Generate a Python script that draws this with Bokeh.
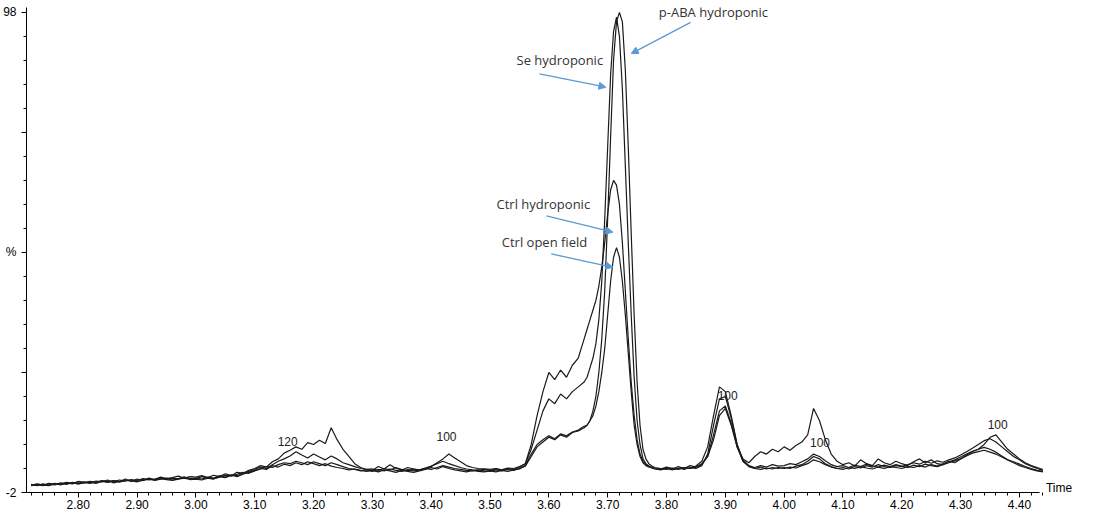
import numpy as np
from bokeh.plotting import figure
from bokeh.models import Arrow, NormalHead, Label, FixedTicker
from bokeh.embed import file_html
from bokeh.resources import INLINE

# retention time grid: 0.01 steps, 0.005 around the main peak
t_seg1 = np.round(np.arange(2.72, 3.6601, 0.01), 3)
t_seg2 = np.round(np.arange(3.665, 3.7801, 0.005), 3)
t_seg3 = np.round(np.arange(3.79, 4.4401, 0.01), 3)
times = np.concatenate([t_seg1, t_seg2, t_seg3])

se_hydro = (
    [-0.6, -0.4, -0.5, -0.1, -0.3, -0.2, 0.1, -0.1, 0.2, 0.0, 0.3, 0.1, 0.5, 0.2, 0.3, 0.6, 0.4, 0.7, 0.5, 0.9, 0.6, 0.8, 1.1, 0.7, 1.0, 0.8, 1.2, 0.9]
    + [1.0, 0.8, 1.2, 1.0, 1.5, 1.2, 1.7, 1.5, 2.0, 2.4]
    + [2.8, 3.3, 3.0, 3.8, 4.5, 5.0, 5.6, 6.5, 5.8, 5.2, 6.0, 5.4, 4.8, 5.6, 5.0, 4.2, 3.8, 3.4, 3.0, 2.8]
    + [2.9, 2.6, 3.0, 2.7, 3.2, 2.8, 2.5, 2.9, 2.7, 3.1, 3.5, 4.0, 4.5, 4.0, 3.6, 3.2, 2.9, 2.7, 2.6, 2.8]
    + [2.6, 2.9, 2.7, 3.0, 2.8, 3.2, 4.0, 7.0, 11.0, 15.0, 17.5, 16.5, 18.5, 17.5, 19.0, 20.0, 21.0]
    + [22, 24, 26, 29, 34, 42, 55, 70, 85, 94, 97, 93, 82, 66, 50, 35, 22, 13, 8, 5, 4, 3.5, 3.2, 3.0]
    + [2.9, 3.3, 3.0, 2.8, 3.2, 3.0, 3.5, 4.5, 7.5, 14.0, 20.0, 19.0, 14.0, 8.0, 4.5, 3.5, 3.0, 3.3, 2.9, 3.2, 3.0]
    + [3.2, 3.0, 3.5, 3.8, 4.5, 5.5, 5.0, 4.0, 3.4, 3.0, 3.2, 2.9, 3.4, 3.1, 3.6, 3.3, 3.8, 3.4, 3.2, 3.6]
    + [3.4, 3.8, 4.2, 3.9, 4.5, 4.1, 4.6, 4.3, 4.8, 5.2, 5.8, 6.5, 7.2, 8.0, 8.8, 9.2, 8.5, 7.5, 6.5, 5.5, 4.8, 4.0, 3.5, 3.0, 2.6]
)

paba_hydro = (
    [-0.3, -0.6, -0.2, -0.5, -0.1, -0.4, 0.0, -0.2, 0.3, 0.1, -0.1, 0.4, 0.2, 0.6, 0.0, 0.3, 0.8, 0.4, 0.2, 0.7, 0.9, 0.5, 0.8, 1.0, 0.6, 0.9, 1.2, 0.8]
    + [0.9, 1.3, 1.0, 0.8, 1.2, 1.6, 1.4, 1.8, 2.2, 2.0]
    + [2.5, 2.9, 3.4, 3.2, 3.8, 4.2, 4.0, 4.5, 4.2, 3.8, 4.4, 4.0, 3.6, 4.2, 3.8, 3.4, 3.0, 2.8, 2.5, 2.7]
    + [2.4, 2.8, 2.5, 2.9, 2.6, 2.4, 2.8, 2.5, 2.7, 3.0, 2.8, 3.2, 3.6, 3.3, 3.0, 2.8, 2.6, 2.5, 2.7, 2.5]
    + [2.4, 2.7, 2.5, 2.8, 2.6, 3.0, 3.5, 5.5, 7.5, 8.5, 9.5, 9.0, 10.0, 9.5, 10.5, 10.8, 11.5]
    + [12, 13, 15, 18, 23, 30, 40, 55, 72, 88, 96, 98, 96, 86, 70, 52, 35, 21, 12, 7, 5, 4, 3.5, 3.2]
    + [3.0, 2.8, 3.1, 2.9, 3.2, 3.0, 3.3, 3.8, 5.5, 10.0, 15.0, 16.0, 12.5, 7.5, 4.5, 3.4, 3.0, 2.8, 3.1, 2.9, 3.2]
    + [3.0, 3.3, 3.1, 3.6, 4.0, 4.8, 4.4, 3.8, 3.3, 3.0, 2.8, 3.2, 3.0, 3.4, 3.1, 2.9, 3.3, 3.0, 3.4, 3.2]
    + [3.0, 3.4, 3.2, 3.6, 3.3, 3.8, 3.5, 4.0, 4.4, 4.8, 5.4, 6.0, 6.6, 7.0, 7.4, 7.0, 6.4, 5.6, 4.8, 4.2, 3.6, 3.2, 2.8, 2.5, 2.3]
)

ctrl_hydro = (
    [-0.5, -0.3, -0.6, -0.2, -0.4, 0.0, -0.3, 0.1, -0.2, 0.0, 0.2, -0.1, 0.3, 0.1, 0.4, 0.2, 0.6, 0.3, 0.8, 0.5, 1.0, 0.7, 1.2, 0.9, 1.1, 1.4, 1.0, 1.3]
    + [1.2, 1.5, 1.1, 1.6, 1.3, 1.9, 1.5, 2.2, 2.0, 2.6]
    + [3.0, 3.6, 3.3, 4.4, 5.0, 6.2, 6.8, 7.5, 7.0, 8.4, 8.0, 8.9, 8.2, 11.5, 9.0, 7.0, 5.5, 4.0, 3.2, 2.8]
    + [2.6, 3.4, 2.9, 3.8, 3.0, 2.7, 3.2, 2.9, 2.6, 3.0, 3.4, 4.2, 5.0, 6.0, 5.2, 4.4, 3.6, 3.2, 3.0, 2.9]
    + [2.8, 3.0, 2.7, 3.1, 3.0, 3.4, 4.0, 8.0, 14.0, 19.0, 23.0, 21.5, 23.5, 22.0, 24.5, 26.0, 30.0]
    + [32, 34, 36, 38, 41, 45, 50, 56, 61, 63, 62, 58, 50, 40, 30, 21, 14, 9, 6, 4.5, 3.8, 3.4, 3.2, 3.0]
    + [2.8, 3.2, 2.9, 3.4, 3.0, 3.6, 3.3, 4.0, 5.5, 9.0, 14.0, 15.5, 12.0, 7.5, 5.0, 4.2, 5.5, 6.5, 6.0, 7.0, 6.5]
    + [7.5, 6.8, 7.8, 8.5, 10.0, 15.5, 13.0, 9.0, 6.0, 4.5, 3.8, 4.2, 3.5, 4.8, 4.0, 3.6, 5.0, 4.2, 3.8, 4.5]
    + [4.0, 3.6, 4.4, 5.0, 4.2, 4.8, 4.0, 3.8, 4.5, 4.2, 5.0, 5.8, 6.5, 7.0, 8.0, 9.5, 10.0, 8.5, 7.0, 6.0, 5.0, 4.2, 3.6, 3.2, 2.8]
)

ctrl_open = (
    [-0.5, -0.2, -0.4, -0.6, -0.2, -0.3, -0.1, 0.0, -0.2, 0.2, 0.0, 0.1, 0.4, 0.3, 0.5, 0.2, 0.4, 0.6, 0.3, 0.5, 0.8, 0.6, 0.9, 0.7, 0.5, 0.8, 1.0, 0.7]
    + [0.8, 0.6, 1.0, 0.9, 1.3, 1.1, 1.6, 1.3, 1.8, 2.2]
    + [2.6, 3.0, 2.8, 3.6, 3.3, 3.9, 3.6, 4.2, 3.8, 4.4, 4.0, 3.6, 4.0, 3.5, 3.2, 3.0, 2.7, 2.9, 2.6, 2.4]
    + [2.6, 2.3, 2.7, 2.5, 2.2, 2.6, 2.4, 2.2, 2.5, 2.8, 3.2, 2.9, 3.4, 3.0, 2.7, 2.5, 2.3, 2.6, 2.4, 2.3]
    + [2.5, 2.3, 2.6, 2.4, 2.7, 2.9, 3.6, 6.0, 8.0, 9.0, 9.8, 9.2, 10.2, 9.8, 10.6, 11.0, 11.8]
    + [12, 13, 14, 16, 19, 23, 28, 35, 42, 47, 49, 47, 42, 35, 27, 19, 12, 8, 5.5, 4.2, 3.6, 3.3, 3.1, 2.9]
    + [2.7, 3.0, 2.7, 3.1, 2.8, 3.2, 3.0, 3.6, 6.0, 12.0, 17.5, 18.0, 13.5, 8.0, 4.8, 3.6, 3.2, 3.6, 3.3, 3.8, 3.5]
    + [3.6, 4.0, 3.8, 4.4, 5.0, 6.0, 5.5, 4.6, 3.8, 3.4, 3.6, 3.2, 3.7, 3.4, 3.9, 3.5, 3.3, 3.7, 3.4, 3.8]
    + [3.5, 3.2, 3.7, 3.4, 3.9, 3.6, 3.4, 3.8, 4.2, 4.6, 5.0, 5.6, 6.2, 6.5, 6.8, 6.4, 6.0, 5.4, 4.8, 4.4, 3.9, 3.4, 3.0, 2.6, 2.4]
)

# annotations: (text, text x, text y, arrow start x, y, arrow end x, y)
callouts = [
    ("p-ABA hydroponic", 3.787, 98.0, 3.841, 95.9, 3.740, 89.4),
    ("Se hydroponic", 3.545, 88.0, 3.584, 85.2, 3.697, 82.4),
    ("Ctrl hydroponic", 3.511, 58.0, 3.596, 55.6, 3.709, 52.2),
    ("Ctrl open field", 3.520, 50.2, 3.604, 47.7, 3.709, 44.9),
]
scan_labels = [("120", 3.156, 7.6), ("100", 3.426, 8.7), ("100", 3.904, 17.3),
               ("100", 4.061, 7.4), ("100", 4.363, 11.3)]

p = figure(width=1088, height=512, output_backend="svg", toolbar_location=None,
           x_range=(2.712, 4.514), y_range=(-2, 99),
           min_border_left=25, min_border_right=2, min_border_top=7,
           min_border_bottom=20)
p.outline_line_color = None
p.grid.visible = False
p.background_fill_color = "white"

for ys in [ctrl_open, ctrl_hydro, paba_hydro, se_hydro]:
    p.line(times, ys, color="#1a1a1a", line_width=1.2)

x_major = list(np.round(np.arange(2.8, 4.41, 0.1), 2))
p.xaxis.ticker = FixedTicker(ticks=x_major,
                             minor_ticks=list(np.round(np.arange(2.72, 4.44, 0.02), 3)))
p.xaxis.major_label_overrides = {float(v): "%.2f" % v for v in x_major}
p.xaxis.bounds = (2.712, 4.434)
p.yaxis.ticker = FixedTicker(ticks=[-2, 23, 48, 73, 98],
                             minor_ticks=list(range(-2, 99, 5)))
p.yaxis.major_label_overrides = {-2: "-2", 23: "", 48: "%", 73: "", 98: "98"}
for ax in (p.xaxis[0], p.yaxis[0]):
    ax.axis_line_color = "black"
    ax.major_tick_line_color = "black"
    ax.minor_tick_line_color = "black"
    ax.major_tick_in = 0
    ax.major_tick_out = 5
    ax.minor_tick_in = 0
    ax.minor_tick_out = 3
    ax.major_label_text_font = "Liberation Sans"
    ax.major_label_text_font_size = "12px"
    ax.major_label_text_color = "black"
p.xaxis.major_label_standoff = 2

for text, tx, ty, x0, y0, x1, y1 in callouts:
    p.add_layout(Label(x=tx, y=ty, text=text, text_font="Open Sans",
                       text_font_size="13px", text_color="#333333",
                       text_baseline="middle"))
    p.add_layout(Arrow(x_start=x0, y_start=y0, x_end=x1, y_end=y1,
                       line_color="#5b9bd5", line_width=1.3,
                       end=NormalHead(size=7, fill_color="#5b9bd5",
                                      line_color="#5b9bd5")))

for text, tx, ty in scan_labels:
    p.add_layout(Label(x=tx, y=ty, text=text, text_font="Liberation Sans",
                       text_font_size="12px", text_color="#222222",
                       text_align="center", text_baseline="bottom"))

p.add_layout(Label(x=4.445, y=-1, text="Time", text_font="Liberation Sans",
                   text_font_size="12px", text_color="black",
                   text_baseline="middle"))

open("out.html", "w").write(file_html(p, INLINE))
